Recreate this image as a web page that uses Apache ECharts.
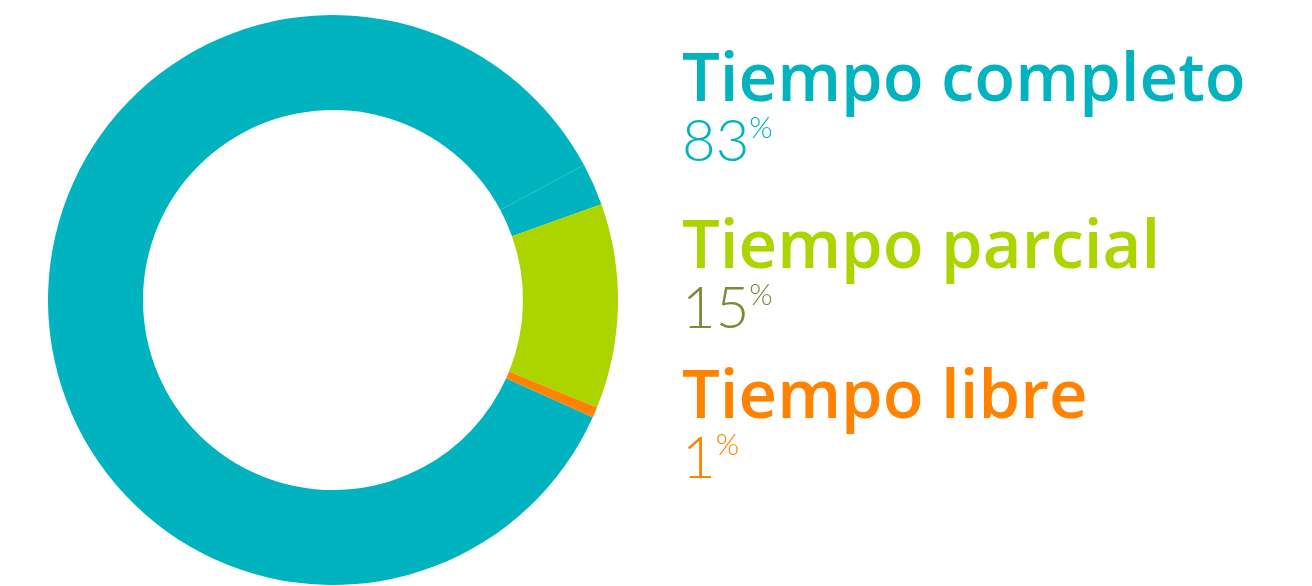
<!DOCTYPE html>
<html>
<head>
<meta charset="utf-8">
<title>Tiempo</title>
<script src="https://cdn.jsdelivr.net/npm/echarts@6/dist/echarts.min.js"></script>
<style>
  html, body { margin: 0; padding: 0; background: #fff; }
  #chart { width: 1312px; height: 586px; }
</style>
</head>
<body>
<div id="chart"></div>
<script>
var sliceNames = ['Tiempo completo', 'Tiempo completo', 'Tiempo parcial', 'Tiempo libre']
var sliceValues = [85.4, 2.4, 11.6, 0.6]
var sliceColors = ['#00b3be', '#00b3be', '#acd500', '#ff8200']

// the labels on the right
var labelNames = ['Tiempo completo', 'Tiempo parcial', 'Tiempo libre']
var labelPercents = ['83', '15', '1']
var nameColors = ['#00b3be', '#acd500', '#ff8200']
var percentColors = ['#00b3be', '#7b8a35', '#ff8200']
var labelTops = [48, 215, 365]

var chart = echarts.init(document.getElementById('chart'))

var legends = labelNames.map(function (name, i) {
  return {
    orient: 'vertical',
    left: 677,
    top: labelTops[i],
    padding: 0,
    icon: 'none',
    itemWidth: 0,
    selectedMode: false,
    data: [name],
    formatter: function (n) {
      return '{n|' + n + '}\n{p|' + labelPercents[i] + '}{s|%}'
    },
    textStyle: {
      rich: {
        n: { fontFamily: 'Open Sans', fontWeight: 600, fontSize: 67, lineHeight: 64, color: nameColors[i] },
        p: { fontFamily: 'Lato', fontWeight: 300, fontSize: 58, lineHeight: 58, color: percentColors[i] },
        s: { fontFamily: 'Lato', fontWeight: 300, fontSize: 30, lineHeight: 30, verticalAlign: 'top', color: percentColors[i] }
      }
    }
  }
})

chart.setOption({
  animation: false,
  legend: legends,
  series: [
    {
      type: 'pie',
      center: [333, 300],
      radius: [190, 285],
      startAngle: -24.3,
      clockwise: true,
      label: { show: false },
      labelLine: { show: false },
      emphasis: { disabled: true },
      itemStyle: { borderWidth: 0 },
      data: sliceValues.map(function (v, i) {
        return { name: sliceNames[i], value: v, itemStyle: { color: sliceColors[i] } }
      })
    }
  ]
})
</script>
</body>
</html>
